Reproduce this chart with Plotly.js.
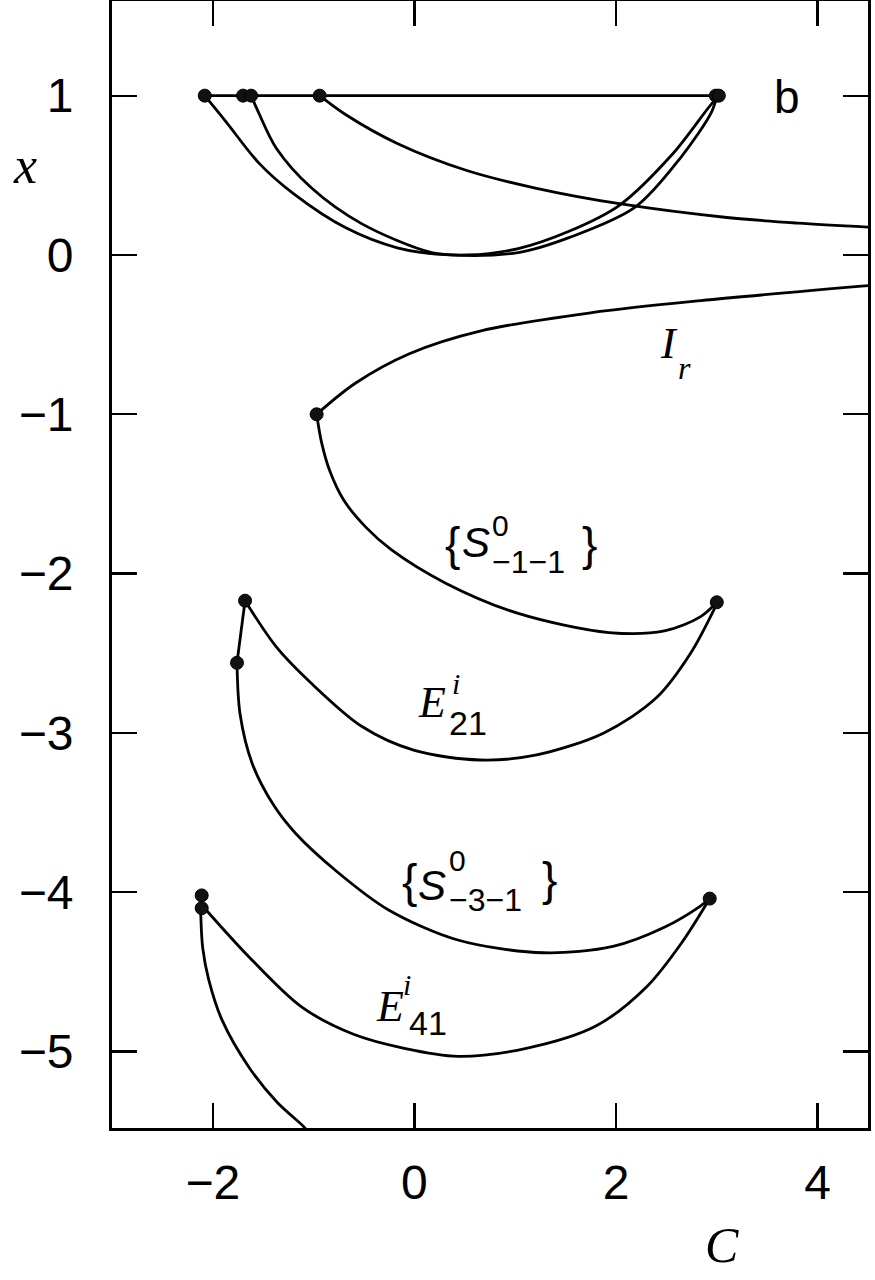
<!DOCTYPE html>
<html>
<head>
<meta charset="utf-8">
<script src="https://cdn.plot.ly/plotly-3.0.1.min.js"></script>
<style>html,body{margin:0;padding:0;background:#fff;}#chart{width:875px;height:1280px;}</style>
</head>
<body>
<div id="chart"></div>
<script>
// Top horizontal segment at x = 1
const topLineC = [-2.08, 3.0];
const topLineX = [1, 1];
// Outer top arc
const arcAC = [-2.08, -1.88, -1.54, -1.20, -0.68, -0.17, 0.35, 1.03, 1.54, 2.19, 2.64, 2.95, 3.0];
const arcAX = [1.0, 0.845, 0.575, 0.385, 0.17, 0.045, 0.0, 0.015, 0.11, 0.30, 0.61, 0.90, 1.0];
// Inner top arc
const arcBC = [-1.62, -1.55, -1.37, -1.02, -0.52, 0.17, 0.52, 1.03, 1.54, 2.03, 2.57, 2.95, 3.03];
const arcBX = [1.0, 0.90, 0.67, 0.42, 0.195, 0.015, 0.0, 0.04, 0.15, 0.31, 0.64, 0.95, 1.0];
// Decaying branch from (-0.94, 1)
const decayC = [-0.94, -0.68, -0.17, 0.52, 1.2, 2.05, 3.1, 3.8, 4.5];
const decayX = [1.0, 0.88, 0.70, 0.53, 0.42, 0.32, 0.235, 0.20, 0.175];
// I_r branch
const irC = [-0.97, -0.59, -0.05, 0.67, 1.76, 2.84, 4.5];
const irX = [-1.0, -0.807, -0.62, -0.475, -0.362, -0.287, -0.193];
// {S0_-1-1}
const s11C = [-0.97, -0.92, -0.84, -0.70, -0.48, -0.23, 0.31, 1.03, 1.93, 2.48, 2.84, 3.0];
const s11X = [-1.0, -1.18, -1.355, -1.54, -1.71, -1.85, -2.06, -2.25, -2.37, -2.36, -2.27, -2.18];
// E^i_21
const e21C = [-1.68, -1.37, -1.02, -0.52, 0.0, 0.65, 1.20, 1.88, 2.40, 2.74, 3.0];
const e21X = [-2.17, -2.46, -2.69, -2.96, -3.11, -3.17, -3.14, -3.00, -2.78, -2.50, -2.19];
// short link
const linkC = [-1.68, -1.76];
const linkX = [-2.17, -2.56];
// {S0_-3-1}
const s31C = [-1.76, -1.73, -1.61, -1.40, -1.18, -0.77, -0.26, 0.43, 1.28, 1.97, 2.48, 2.83, 2.93];
const s31X = [-2.56, -2.88, -3.19, -3.45, -3.63, -3.87, -4.11, -4.30, -4.38, -4.34, -4.22, -4.09, -4.04];
// E^i_41
const e41C = [-2.11, -1.65, -1.12, -0.61, -0.10, 0.43, 1.11, 1.80, 2.31, 2.66, 2.93];
const e41X = [-4.08, -4.40, -4.72, -4.89, -4.98, -5.03, -4.98, -4.84, -4.59, -4.31, -4.04];
// lowest branch
const lowC = [-2.12, -2.10, -2.04, -1.91, -1.64, -1.36, -1.10, -1.06];
const lowX = [-4.12, -4.35, -4.55, -4.80, -5.10, -5.32, -5.47, -5.50];
// end points (circles)
const ptsC = [-2.08, -1.70, -1.62, -0.94, 2.99, 3.02, -0.97, 3.0, -1.68, -1.76, 2.93, -2.11, -2.11];
const ptsX = [1, 1, 1, 1, 1, 1, -1.0, -2.18, -2.17, -2.56, -4.04, -4.02, -4.10];

const xTicks = [-2, 0, 2, 4];
const yTicks = [1, 0, -1, -2, -3, -4, -5];

const curves = [
  [topLineC, topLineX], [arcAC, arcAX], [arcBC, arcBX], [decayC, decayX],
  [irC, irX], [s11C, s11X], [e21C, e21X], [linkC, linkX], [s31C, s31X],
  [e41C, e41X], [lowC, lowX]
];
const traces = curves.map(([c, v]) => ({
  x: c, y: v, type: 'scatter', mode: 'lines',
  line: {color: '#000', width: 2.8, shape: 'spline', smoothing: 0.9},
  hoverinfo: 'skip', showlegend: false
}));
traces.push({
  x: ptsC, y: ptsX, type: 'scatter', mode: 'markers',
  marker: {symbol: 'circle', size: 13, color: '#111', line: {color: '#000', width: 1}},
  hoverinfo: 'skip', showlegend: false, cliponaxis: false
});

const SANS = 'Liberation Sans, Arial, sans-serif';
const SERIF = 'Liberation Serif, Times New Roman, serif';
function lab(x, y, text, size, family, anchor) {
  return {x: x, y: y, xref: 'x', yref: 'y', text: text, showarrow: false,
    xanchor: anchor || 'left', yanchor: 'middle',
    font: {family: family, size: size, color: '#000'}};
}
const annotations = [
  lab(3.55, 0.99, 'b', 46, SANS),
  lab(2.42, -0.555, '<i>I</i>', 44, SERIF),
  lab(2.60, -0.707, '<i>r</i>', 32, SERIF),
  lab(0.288, -1.816, '{', 46, SANS),
  lab(0.456, -1.804, '<i>S</i>', 42, SANS),
  lab(0.754, -1.70, '0', 30, SANS),
  lab(0.754, -1.93, '\u22121\u22121', 32, SANS),
  lab(1.647, -1.816, '}', 46, SANS),
  lab(0.02, -2.807, '<i>E</i>', 44, SERIF),
  lab(0.357, -2.69, '<i>i</i>', 30, SERIF),
  lab(0.327, -2.94, '21', 34, SANS),
  lab(-0.139, -3.929, '{', 46, SANS),
  lab(0.02, -3.96, '<i>S</i>', 42, SANS),
  lab(0.327, -3.80, '0', 30, SANS),
  lab(0.327, -4.05, '\u22123\u22121', 32, SANS),
  lab(1.25, -3.92, '}', 46, SANS),
  lab(-0.397, -4.72, '<i>E</i>', 44, SERIF),
  lab(-0.129, -4.58, '<i>i</i>', 30, SERIF),
  lab(-0.069, -4.82, '41', 34, SANS),
  {x: -0.115, y: 0.854, xref: 'paper', yref: 'paper', text: '<i>x</i>', showarrow: false,
   xanchor: 'center', yanchor: 'middle', font: {family: SERIF, size: 52, color: '#000'}},
  {x: 0.807, y: -0.104, xref: 'paper', yref: 'paper', text: '<i>C</i>', showarrow: false,
   xanchor: 'center', yanchor: 'middle', font: {family: SERIF, size: 50, color: '#000'}}
];

const axisCommon = {
  showgrid: false, zeroline: false, showline: true, linecolor: '#000', linewidth: 3,
  mirror: 'ticks', ticks: 'inside', ticklen: 25, tickwidth: 2.2, tickcolor: '#000',
  tickfont: {family: SANS, size: 48, color: '#000'}, fixedrange: true
};
const layout = {
  width: 875, height: 1280,
  margin: {l: 112, r: 7, t: 1, b: 152},
  paper_bgcolor: '#fff', plot_bgcolor: '#fff',
  showlegend: false,
  xaxis: Object.assign({}, axisCommon, {range: [-3, 4.5], tickmode: 'array', tickvals: xTicks,
    ticklabelstandoff: 10}),
  yaxis: Object.assign({}, axisCommon, {range: [-5.48, 1.594], tickmode: 'array', tickvals: yTicks,
    ticklabelstandoff: 26}),
  annotations: annotations
};
Plotly.newPlot('chart', traces, layout, {staticPlot: true, displayModeBar: false});
</script>
</body>
</html>
